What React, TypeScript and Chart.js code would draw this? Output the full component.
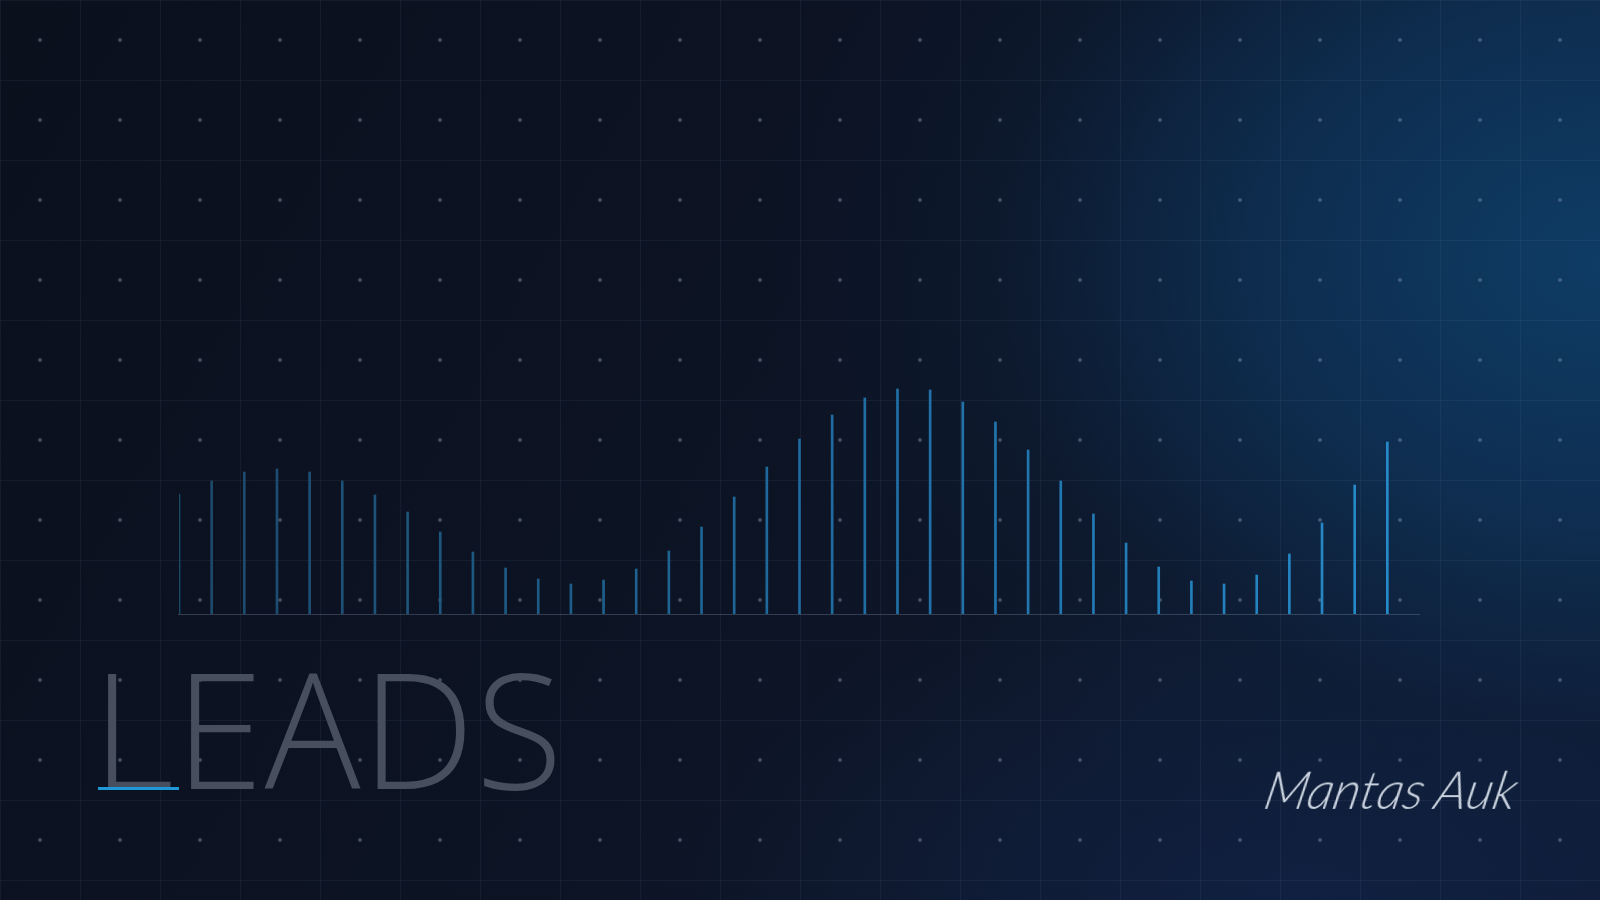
import React, { useEffect, useRef } from "react";
import { Chart, registerables } from "chart.js";

Chart.register(...registerables);

const periods = [
  "W01", "W02", "W03", "W04", "W05", "W06", "W07", "W08", "W09", "W10",
  "W11", "W12", "W13", "W14", "W15", "W16", "W17", "W18", "W19", "W20",
  "W21", "W22", "W23", "W24", "W25", "W26", "W27", "W28", "W29", "W30",
  "W31", "W32", "W33", "W34", "W35", "W36", "W37", "W38", "W39",
];

const leads = [
  120, 133, 142, 145, 142, 133, 119, 102, 82, 62,
  46, 35, 30, 34, 45, 63, 87, 117, 147, 175,
  199, 216, 225, 224, 212, 192, 164, 133, 100, 71,
  47, 33, 30, 39, 60, 91, 129, 172,
];

const title = "LEADS";
const signature = "Mantas Auk";

const baselinePlugin = {
  id: "baseline",
  beforeDatasetsDraw(chart: any) {
    const { ctx, chartArea } = chart;
    const y = chart.scales.y.getPixelForValue(0);
    ctx.save();
    ctx.strokeStyle = "rgba(120,140,170,0.35)";
    ctx.lineWidth = 1;
    ctx.beginPath();
    ctx.moveTo(chartArea.left - 1, Math.round(y) + 0.5);
    ctx.lineTo(chartArea.right, Math.round(y) + 0.5);
    ctx.stroke();
    ctx.restore();
  },
};

export default function App() {
  const ref = useRef<HTMLCanvasElement>(null);

  useEffect(() => {
    const canvas = ref.current!;
    const chart = new Chart(canvas, {
      type: "bar",
      data: {
        labels: periods,
        datasets: [
          {
            label: "Leads",
            data: leads,
            barThickness: 2,
            borderWidth: 0,
            backgroundColor: (c: any) => {
              const ch = c.chart;
              const area = ch.chartArea;
              if (!area) return "#1f6a9c";
              const g = ch.ctx.createLinearGradient(area.left, 0, area.right, 0);
              g.addColorStop(0, "rgb(28,72,104)");
              g.addColorStop(0.5, "rgb(31,106,158)");
              g.addColorStop(1, "rgb(38,140,204)");
              return g;
            },
          },
        ],
      },
      options: {
        responsive: false,
        animation: false,
        layout: { padding: { left: 179, right: 180, top: 314, bottom: 286 } },
        plugins: {
          legend: { display: false },
          tooltip: { enabled: false },
          title: { display: false },
        },
        scales: {
          x: { display: false, offset: false },
          y: { display: false, min: 0, max: 300 },
        },
      },
      plugins: [baselinePlugin],
    });
    return () => chart.destroy();
  }, []);

  return (
    <div
      style={{
        position: "fixed",
        left: 0,
        top: 0,
        width: 1600,
        height: 900,
        overflow: "hidden",
        background:
          "radial-gradient(ellipse 980px 760px at 1600px 260px, rgba(14,62,104,0.95) 0%, rgba(14,54,94,0.7) 35%, rgba(13,34,62,0.3) 62%, rgba(13,30,55,0) 85%), radial-gradient(ellipse 800px 420px at 1300px 900px, rgba(17,34,70,0.8), rgba(16,32,66,0) 80%), linear-gradient(120deg, #0b101d 0%, #0c1323 45%, #0e172a 75%, #0f1b33 100%)",
      }}
    >
      <div
        style={{
          position: "absolute",
          inset: 0,
          backgroundImage:
            "radial-gradient(circle at 40px 40px, rgba(125,140,165,0.6) 0px, rgba(125,140,165,0.45) 1.3px, rgba(125,140,165,0) 2.6px), linear-gradient(to right, rgba(140,160,200,0.08) 1px, transparent 1px), linear-gradient(to bottom, rgba(140,160,200,0.08) 1px, transparent 1px)",
          backgroundSize: "80px 80px, 80px 80px, 80px 80px",
        }}
      />
      <canvas
        ref={ref}
        width={1600}
        height={900}
        style={{ position: "absolute", left: 0, top: 0, width: 1600, height: 900 }}
      />
      <div
        style={{
          position: "absolute",
          left: 92,
          top: 627,
          fontFamily: "'Open Sans', sans-serif",
          fontWeight: 300,
          fontSize: 160,
          lineHeight: "200px",
          color: "#474f5f",
          letterSpacing: 1,
          whiteSpace: "nowrap",
        }}
      >
        {title}
      </div>
      <div
        style={{
          position: "absolute",
          left: 98,
          top: 787,
          width: 81,
          height: 3,
          background: "#1e98d6",
        }}
      />
      <div
        style={{
          position: "absolute",
          left: 1266,
          top: 758,
          fontFamily: "'Lato', 'DejaVu Serif', serif",
          fontStyle: "italic",
          fontWeight: 300,
          fontSize: 52,
          lineHeight: "62px",
          color: "#c9d2de",
          whiteSpace: "nowrap",
          transform: "skewX(-12deg)",
        }}
      >
        {signature}
      </div>
    </div>
  );
}
